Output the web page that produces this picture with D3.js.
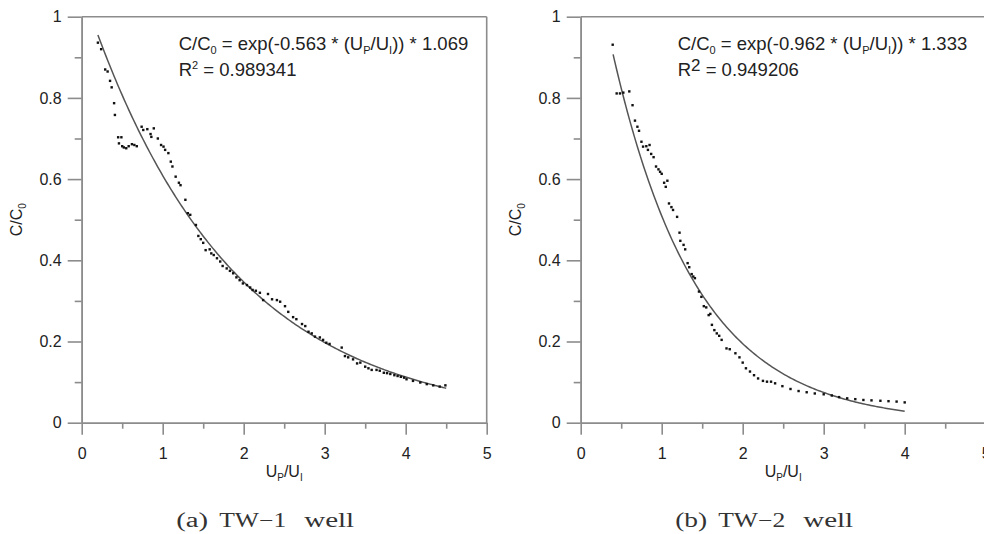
<!DOCTYPE html>
<html><head><meta charset="utf-8">
<script src="https://cdn.jsdelivr.net/npm/d3@7"></script>
<style>body{margin:0;background:#fff}svg{display:block}</style>
</head><body>
<svg id="chart" width="984" height="534"></svg>
<script>
// ---- data ----
const xTickValues = [0, 1, 2, 3, 4, 5];
const xMinorValues = [0.5, 1.5, 2.5, 3.5, 4.5];
const yTickValues = [0, 0.2, 0.4, 0.6, 0.8, 1];
const yMinorValues = [0.1, 0.3, 0.5, 0.7, 0.9];

const tw1X = [0.20,0.24,0.29,0.32,0.35,0.37,0.40,0.41,0.45,0.46,0.49,0.50,0.52,0.55,0.58,0.62,0.65,0.68,
  0.74,0.76,0.81,0.85,0.86,0.89,0.94,0.98,1.01,1.03,1.07,1.10,1.12,1.16,1.20,1.22,1.28,1.31,1.34,1.41,
  1.44,1.47,1.50,1.53,1.58,1.60,1.63,1.67,1.71,1.74,1.79,1.83,1.87,1.91,1.95,1.99,2.04,2.08,2.11,2.15,
  2.20,2.24,2.30,2.35,2.41,2.45,2.51,2.55,2.61,2.65,2.72,2.76,2.80,2.84,2.88,2.94,2.98,3.02,3.06,3.21,
  3.25,3.29,3.35,3.40,3.44,3.50,3.54,3.58,3.64,3.68,3.73,3.77,3.81,3.86,3.90,3.94,3.98,4.01,4.09,4.18,
  4.26,4.34,4.42,4.49];
const tw1Y = [0.936,0.920,0.870,0.865,0.842,0.826,0.787,0.758,0.703,0.688,0.703,0.681,0.678,0.676,0.681,0.686,0.684,0.681,
  0.729,0.721,0.723,0.711,0.704,0.725,0.700,0.684,0.680,0.672,0.664,0.643,0.631,0.606,0.591,0.585,0.549,0.516,0.512,0.487,
  0.460,0.452,0.443,0.425,0.427,0.417,0.413,0.405,0.397,0.386,0.380,0.374,0.368,0.358,0.351,0.343,0.339,0.333,0.327,0.325,
  0.320,0.302,0.317,0.304,0.302,0.298,0.287,0.273,0.260,0.255,0.243,0.238,0.224,0.220,0.212,0.210,0.204,0.197,0.194,0.185,
  0.164,0.161,0.156,0.146,0.148,0.138,0.134,0.130,0.130,0.128,0.123,0.122,0.120,0.117,0.115,0.113,0.111,0.107,0.103,0.099,
  0.095,0.092,0.089,0.092];

const tw2X = [0.395,0.444,0.485,0.526,0.60,0.64,0.67,0.70,0.72,0.75,0.77,0.81,0.83,0.85,0.87,0.90,0.93,0.96,0.98,1.00,
  1.03,1.05,1.07,1.09,1.12,1.14,1.19,1.22,1.23,1.27,1.29,1.32,1.34,1.37,1.39,1.41,1.46,1.49,1.52,1.55,1.58,1.60,
  1.62,1.65,1.68,1.71,1.74,1.80,1.84,1.91,1.96,2.00,2.04,2.09,2.14,2.19,2.25,2.30,2.35,2.40,2.49,2.59,2.69,2.79,
  2.89,3.00,3.10,3.19,3.29,3.39,3.49,3.59,3.70,3.80,3.90,4.00];
const tw2Y = [0.931,0.811,0.811,0.813,0.816,0.782,0.744,0.729,0.719,0.692,0.680,0.681,0.672,0.684,0.662,0.654,0.631,0.624,0.618,0.613,
  0.591,0.581,0.596,0.540,0.531,0.524,0.507,0.468,0.448,0.438,0.427,0.393,0.383,0.366,0.360,0.356,0.323,0.310,0.287,0.284,0.265,0.268,
  0.241,0.228,0.220,0.214,0.204,0.183,0.181,0.171,0.161,0.148,0.134,0.126,0.117,0.109,0.103,0.101,0.101,0.097,0.090,0.083,0.078,0.075,
  0.072,0.070,0.067,0.063,0.060,0.058,0.056,0.055,0.054,0.053,0.052,0.050];

const fitA = [1.069, 1.333];
const fitK = [0.563, 0.962];
const fitFrom = [0.2, 0.4];
const fitTo = [4.5, 4.0];
const eqRate = ["-0.563", "-0.962"];
const eqMult = ["1.069", "1.333"];
const r2Value = ["0.989341", "0.949206"];
const capLetter = ["(a)", "(b)"];
const capWell = ["TW\u22121", "TW\u22122"];

// ---- drawing ----
const svg = d3.select("#chart");
const SANS = "'Liberation Sans', Arial, sans-serif";
const AX = "#8c8c8c";
const panelLeft = [81.7, 580.7];
const plotW = 405, yTop = 16.7, yBot = 422.7;

function sub(t, s, size, shift) {
  t.append("tspan").attr("font-size", size).attr("dy", shift).text(s);
  return t.append("tspan").attr("dy", -shift);
}

panelLeft.forEach((L, i) => {
  const g = svg.append("g");
  const x = d3.scaleLinear().domain([0, 5]).range([L, L + plotW]);
  const y = d3.scaleLinear().domain([0, 1]).range([yBot, yTop]);

  const styleAxis = s => {
    s.select(".domain").attr("stroke", AX).attr("stroke-width", 1.6);
    s.selectAll(".tick line").attr("stroke", AX).attr("stroke-width", 1.6);
    s.selectAll("text").attr("fill", "#222").attr("font-family", SANS).attr("font-size", 16);
  };
  g.append("g").attr("transform", `translate(0,${yBot})`)
    .call(d3.axisBottom(x).tickValues(xMinorValues).tickSize(6).tickSizeOuter(0).tickFormat(""))
    .call(styleAxis);
  g.append("g").attr("transform", `translate(0,${yBot})`)
    .call(d3.axisBottom(x).tickValues(xTickValues).tickSize(12).tickSizeOuter(0).tickPadding(13).tickFormat(d3.format("d")))
    .call(styleAxis);
  g.append("g").attr("transform", `translate(${L},0)`)
    .call(d3.axisLeft(y).tickValues(yMinorValues).tickSize(7).tickSizeOuter(0).tickFormat(""))
    .call(styleAxis);
  g.append("g").attr("transform", `translate(${L},0)`)
    .call(d3.axisLeft(y).tickValues(yTickValues).tickSize(14).tickSizeOuter(0).tickPadding(6)
      .tickFormat(d => (d === 0 || d === 1) ? String(d) : d3.format(".1f")(d)))
    .call(styleAxis);

  g.append("line").attr("x1", x(0)).attr("x2", x(5)).attr("y1", y(1)).attr("y2", y(1))
    .attr("stroke", AX).attr("stroke-width", 1.6);
  g.append("line").attr("x1", x(5)).attr("x2", x(5)).attr("y1", y(0)).attr("y2", y(1))
    .attr("stroke", AX).attr("stroke-width", 1.6);

  // fitted curve from the stated equation
  const xs = d3.range(fitFrom[i], fitTo[i] + 1e-9, 0.02);
  const line = d3.line().x(d => x(d)).y(d => y(fitA[i] * Math.exp(-fitK[i] * d)));
  g.append("path").datum(xs).attr("d", line).attr("fill", "none")
    .attr("stroke", "#555").attr("stroke-width", 1.5);

  const X = i === 0 ? tw1X : tw2X, Y = i === 0 ? tw1Y : tw2Y;
  g.append("g").selectAll("rect").data(X.map((v, k) => [v, Y[k]])).join("rect")
    .attr("x", d => x(d[0]) - 1.2).attr("y", d => y(d[1]) - 1.2)
    .attr("width", 2.4).attr("height", 2.4).attr("fill", "#111");

  const eq = g.append("text").attr("x", L + 97).attr("y", 50)
    .attr("font-family", SANS).attr("font-size", 18.5).attr("fill", "#222");
  let t = eq.append("tspan").text("C/C");
  t = sub(eq, "0", 11, 4);
  t.text(` = exp(${eqRate[i]} * (U`);
  t = sub(eq, "P", 11, 4);
  t.text("/U");
  t = sub(eq, "I", 11, 4);
  t.text(`)) * ${eqMult[i]}`);

  const r2 = g.append("text").attr("x", L + 97).attr("y", 76)
    .attr("font-family", SANS).attr("font-size", 18.5).attr("fill", "#222");
  r2.append("tspan").text("R");
  if (i === 0) {
    r2.append("tspan").attr("font-size", 11).attr("dy", -7).text("2");
    r2.append("tspan").attr("dy", 7).text(` = ${r2Value[i]}`);
  } else {
    r2.append("tspan").attr("font-size", 17).attr("dy", -5).text("2");
    r2.append("tspan").attr("dy", 5).text(` = ${r2Value[i]}`);
  }

  const cx = (x(0) + x(5)) / 2;
  const xt = g.append("text").attr("x", cx).attr("y", 477).attr("text-anchor", "middle")
    .attr("font-family", SANS).attr("font-size", 16).attr("fill", "#222");
  xt.append("tspan").text("U");
  let u = sub(xt, "P", 10, 4); u.text("/U"); sub(xt, "I", 10, 4);

  const yt = g.append("text").attr("transform", `translate(${L - 60},${(yTop + yBot) / 2}) rotate(-90)`)
    .attr("text-anchor", "middle").attr("font-family", SANS).attr("font-size", 16).attr("fill", "#222");
  yt.append("tspan").text("C/C");
  sub(yt, "0", 10, 4);

  const SERIF = "'Liberation Serif', 'Times New Roman', serif";
  const capParts = [[capLetter[i], -108, 32], [capWell[i], -65, 67], ["well", 20, 50]];
  capParts.forEach(p => {
    g.append("text").attr("x", cx + p[1]).attr("y", 527).text(p[0])
      .attr("font-family", SERIF).attr("font-size", 20).attr("fill", "#333")
      .attr("textLength", p[2]).attr("lengthAdjust", "spacingAndGlyphs");
  });
});
</script>
</body></html>
